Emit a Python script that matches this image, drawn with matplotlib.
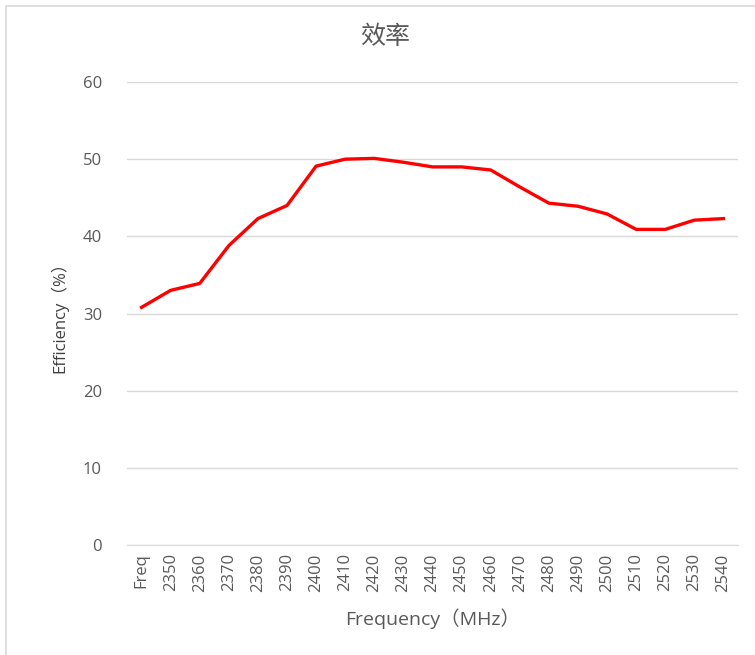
import matplotlib.pyplot as plt
from matplotlib.patches import Rectangle

plt.rcParams["font.family"] = ["Open Sans", "Noto Sans CJK SC", "DejaVu Sans"]

# 频点与效率数据
categories = ["Freq", "2350", "2360", "2370", "2380", "2390", "2400", "2410",
              "2420", "2430", "2440", "2450", "2460", "2470", "2480", "2490",
              "2500", "2510", "2520", "2530", "2540"]
efficiency = [30.8, 33.0, 33.9, 38.8, 42.3, 44.0, 49.1, 50.0, 50.1, 49.6,
              49.0, 49.0, 48.6, 46.4, 44.3, 43.9, 42.9, 40.9, 40.9, 42.1, 42.3]
y_ticks = [0, 10, 20, 30, 40, 50, 60]

text_color = "#595959"
grid_color = "#d9d9d9"

fig = plt.figure(figsize=(7.55, 6.55), dpi=100)
ax = fig.add_axes([127 / 755, 1 - 545 / 655, (738 - 127) / 755, (545 - 82) / 655])

# 外框（只有上边和左边可见）
fig.patches.append(Rectangle((6 / 755, -0.1), 1.2, 1 - 6 / 655 + 0.1,
                             transform=fig.transFigure, fill=False,
                             edgecolor=grid_color, linewidth=1.2))

x = list(range(len(categories)))
ax.plot(x, efficiency, color="#ff0000", linewidth=2.4, solid_joinstyle="round")

ax.set_xlim(-0.5, len(categories) - 0.5)
ax.set_ylim(0, 60)
ax.set_yticks(y_ticks)
ax.set_xticks(x)
ax.set_xticklabels(categories, rotation=90, fontsize=12, color=text_color)
ax.tick_params(axis="y", labelsize=12, labelcolor=text_color, length=0, pad=18)
ax.tick_params(axis="x", length=0, pad=6)
ax.grid(axis="y", color=grid_color, linewidth=1)
ax.set_axisbelow(True)
for s in ["top", "right", "left"]:
    ax.spines[s].set_visible(False)
ax.spines["bottom"].set_color(grid_color)

ax.set_xlabel("Frequency（MHz）", fontsize=14, color=text_color, labelpad=12)
ax.set_ylabel("Efficiency（%）", fontsize=12, color="#404040", labelpad=10)
fig.text(385 / 755, 1 - 38 / 655, "效率", ha="center", va="center",
         fontsize=18, color=text_color)

plt.savefig("out.png")
